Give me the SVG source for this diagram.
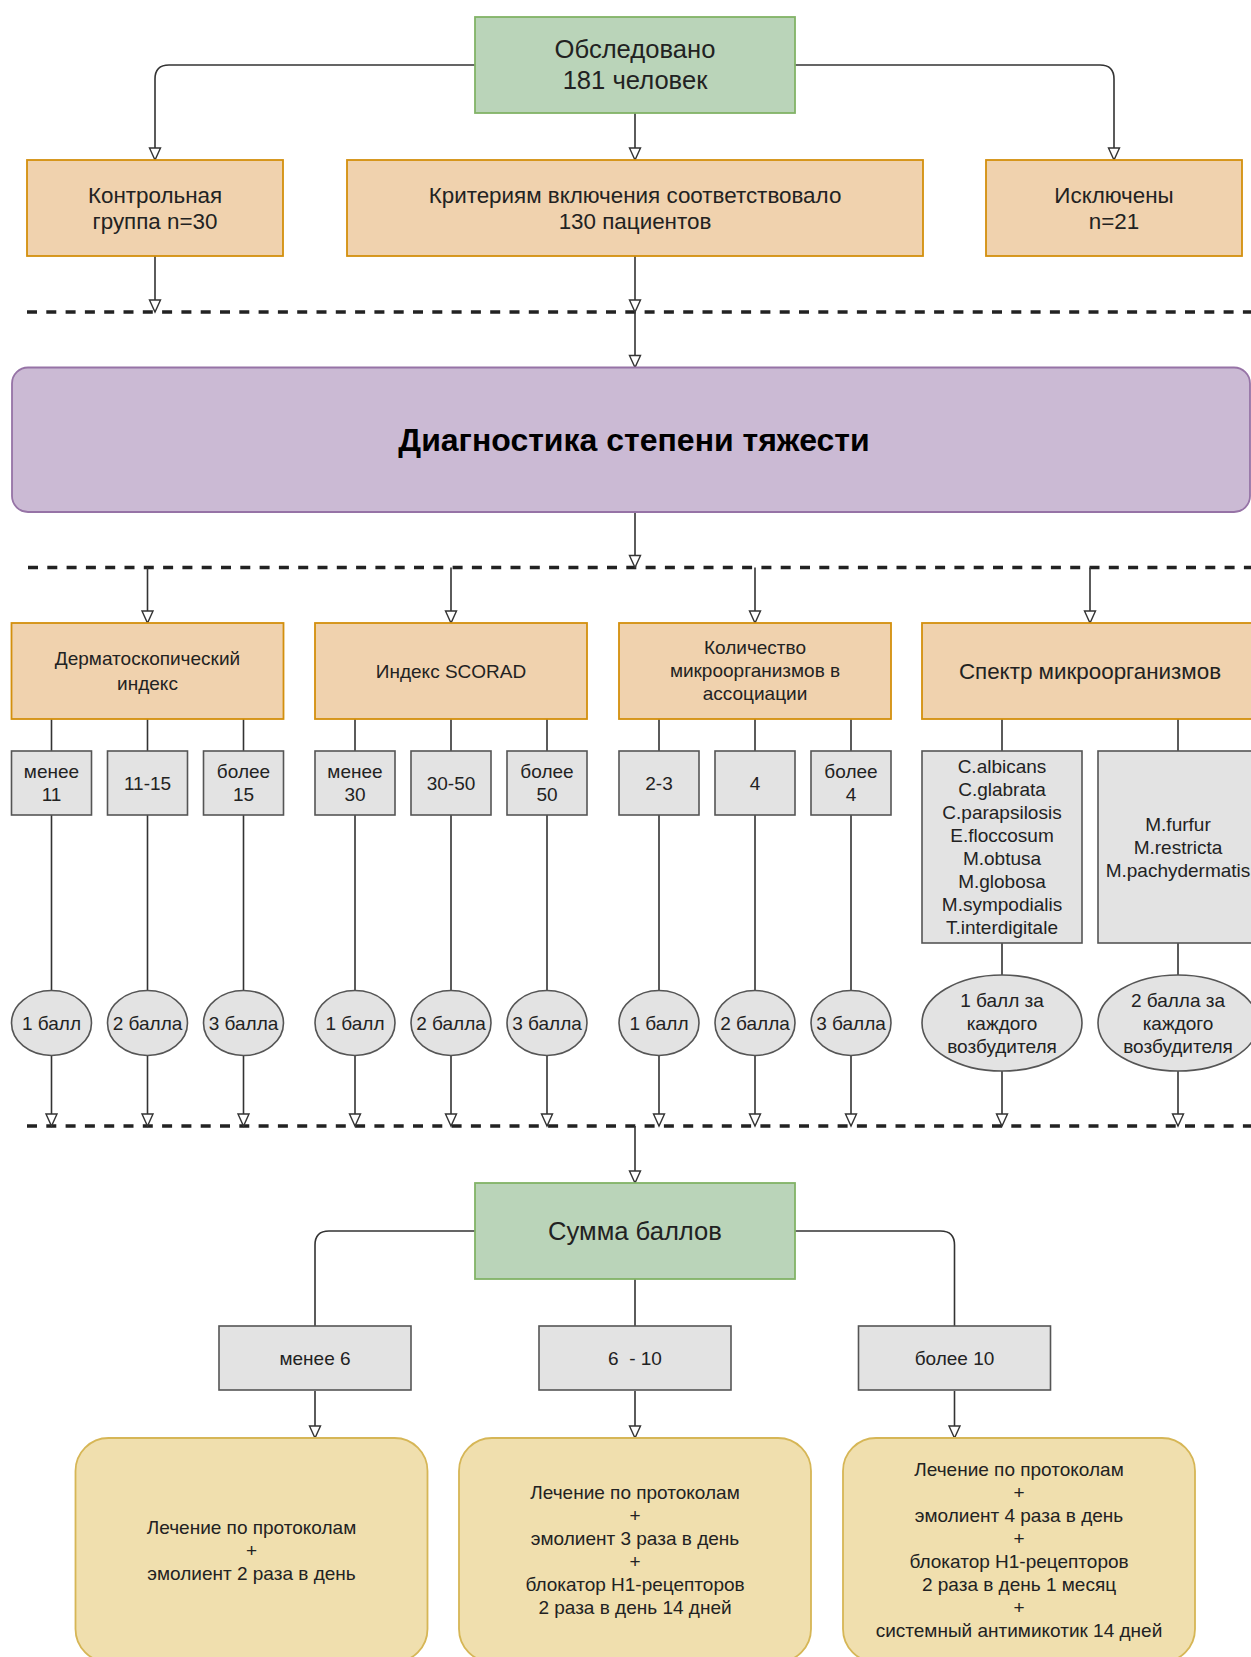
<svg xmlns="http://www.w3.org/2000/svg" width="1251" height="1657" viewBox="0 0 1251 1657">
<defs>
<style>
text{font-family:"Liberation Sans",Arial,sans-serif;fill:#222;text-anchor:middle;dominant-baseline:central}
.t25{font-size:25.6px}.t22{font-size:22.4px}.t19{font-size:19px}
.tb{font-size:32px;font-weight:bold;fill:#000}
.green{fill:#bad4b9;stroke:#82b366;stroke-width:1.8}
.orange{fill:#f0d2ae;stroke:#d38f0d;stroke-width:1.8}
.purple{fill:#cbbad4;stroke:#9673a6;stroke-width:1.8}
.gray{fill:#e3e3e3;stroke:#555;stroke-width:1.6}
.yellow{fill:#f0dfae;stroke:#d6b656;stroke-width:1.8}
.ln{fill:none;stroke:#333;stroke-width:1.6}
.ar{fill:none;stroke:#333;stroke-width:1.6;marker-end:url(#arr)}
.dash{fill:none;stroke:#222;stroke-width:3.5;stroke-dasharray:10 9.3}
</style>
<marker id="arr" markerUnits="userSpaceOnUse" markerWidth="16" markerHeight="16" viewBox="-2 -2 16 16" refX="12" refY="6" orient="auto">
<path d="M0,0.5 L12,6 L0,11.5 Z" fill="#fff" stroke="#333" stroke-width="1.4"/>
</marker>
</defs>
<rect width="1251" height="1657" fill="#fff"/>

<g id="dividers">
<line class="dash" x1="27" y1="312" x2="1251" y2="312"/>
<line class="dash" x1="28" y1="567.5" x2="1251" y2="567.5"/>
<line class="dash" x1="27" y1="1126" x2="1251" y2="1126"/>
</g>

<g id="connectors">
<path class="ar" d="M475,65 H169 Q155,65 155,79 V160"/>
<path class="ar" d="M795,65 H1100 Q1114,65 1114,79 V160"/>
<path class="ar" d="M635,113 V160"/>
<path class="ar" d="M155,256 V312"/>
<path class="ar" d="M635,256 V312"/>
<path class="ar" d="M635,312 V367.5"/>
<path class="ar" d="M635,512 V567.5"/>
<path class="ar" d="M147.5,567.5 V623"/>
<path class="ar" d="M451,567.5 V623"/>
<path class="ar" d="M755,567.5 V623"/>
<path class="ar" d="M1090,567.5 V623"/>
<path class="ln" d="M51.5,719 V751 M147.5,719 V751 M243.5,719 V751 M355,719 V751 M451,719 V751 M547,719 V751 M659,719 V751 M755,719 V751 M851,719 V751 M1002,719 V751 M1178,719 V751"/>
<path class="ln" d="M51.5,815 V990.5 M147.5,815 V990.5 M243.5,815 V990.5 M355,815 V990.5 M451,815 V990.5 M547,815 V990.5 M659,815 V990.5 M755,815 V990.5 M851,815 V990.5 M1002,943 V975 M1178,943 V975"/>
<path class="ar" d="M51.5,1055.5 V1126"/>
<path class="ar" d="M147.5,1055.5 V1126"/>
<path class="ar" d="M243.5,1055.5 V1126"/>
<path class="ar" d="M355,1055.5 V1126"/>
<path class="ar" d="M451,1055.5 V1126"/>
<path class="ar" d="M547,1055.5 V1126"/>
<path class="ar" d="M659,1055.5 V1126"/>
<path class="ar" d="M755,1055.5 V1126"/>
<path class="ar" d="M851,1055.5 V1126"/>
<path class="ar" d="M1002,1071 V1126"/>
<path class="ar" d="M1178,1071 V1126"/>
<path class="ar" d="M635,1126 V1183"/>
<path class="ln" d="M475,1231 H329 Q315,1231 315,1245 V1326"/>
<path class="ln" d="M795,1231 H940.5 Q954.5,1231 954.5,1245 V1326"/>
<path class="ln" d="M635,1279 V1326"/>
<path class="ar" d="M315,1391 V1438"/>
<path class="ar" d="M635,1391 V1438"/>
<path class="ar" d="M954.5,1391 V1438"/>
</g>

<g id="obsledovano"><rect class="green" x="475" y="17" width="320" height="96"/>
<text class="t25" x="635" y="49">Обследовано</text><text class="t25" x="635" y="80">181 человек</text></g>

<g id="kontrol"><rect class="orange" x="27" y="160" width="256" height="96"/>
<text class="t22" x="155" y="195">Контрольная</text><text class="t22" x="155" y="221">группа n=30</text></g>

<g id="kriterii"><rect class="orange" x="347" y="160" width="576" height="96"/>
<text class="t22" x="635" y="195">Критериям включения соответствовало</text><text class="t22" x="635" y="221">130 пациентов</text></g>

<g id="isklyucheny"><rect class="orange" x="986" y="160" width="256" height="96"/>
<text class="t22" x="1114" y="195">Исключены</text><text class="t22" x="1114" y="221">n=21</text></g>

<g id="diagnostika"><rect class="purple" x="12" y="367.5" width="1238" height="144.5" rx="16"/>
<text class="tb" x="634" y="440">Диагностика степени тяжести</text></g>

<g id="dermato"><rect class="orange" x="11.5" y="623" width="272" height="96"/>
<text class="t19" x="147.5" y="658.5">Дерматоскопический</text><text class="t19" x="147.5" y="683.5">индекс</text></g>
<g id="scorad"><rect class="orange" x="315" y="623" width="272" height="96"/>
<text class="t19" x="451" y="671">Индекс SCORAD</text></g>
<g id="kolichestvo"><rect class="orange" x="619" y="623" width="272" height="96"/>
<text class="t19" x="755" y="647.5">Количество</text><text class="t19" x="755" y="670.5">микроорганизмов в</text><text class="t19" x="755" y="693.5">ассоциации</text></g>
<g id="spektr"><rect class="orange" x="922" y="623" width="336" height="96"/>
<text class="t22" x="1090" y="671">Спектр микроорганизмов</text></g>

<g id="d1"><rect class="gray" x="11.5" y="751" width="80" height="64"/><text class="t19" x="51.5" y="771.5">менее</text><text class="t19" x="51.5" y="794.5">11</text></g>
<g id="d2"><rect class="gray" x="107.5" y="751" width="80" height="64"/><text class="t19" x="147.5" y="783">11-15</text></g>
<g id="d3"><rect class="gray" x="203.5" y="751" width="80" height="64"/><text class="t19" x="243.5" y="771.5">более</text><text class="t19" x="243.5" y="794.5">15</text></g>
<g id="s1"><rect class="gray" x="315" y="751" width="80" height="64"/><text class="t19" x="355" y="771.5">менее</text><text class="t19" x="355" y="794.5">30</text></g>
<g id="s2"><rect class="gray" x="411" y="751" width="80" height="64"/><text class="t19" x="451" y="783">30-50</text></g>
<g id="s3"><rect class="gray" x="507" y="751" width="80" height="64"/><text class="t19" x="547" y="771.5">более</text><text class="t19" x="547" y="794.5">50</text></g>
<g id="k1"><rect class="gray" x="619" y="751" width="80" height="64"/><text class="t19" x="659" y="783">2-3</text></g>
<g id="k2"><rect class="gray" x="715" y="751" width="80" height="64"/><text class="t19" x="755" y="783">4</text></g>
<g id="k3"><rect class="gray" x="811" y="751" width="80" height="64"/><text class="t19" x="851" y="771.5">более</text><text class="t19" x="851" y="794.5">4</text></g>
<g id="sp1"><rect class="gray" x="922" y="751" width="160" height="192"/>
<text class="t19" x="1002" y="766">C.albicans</text><text class="t19" x="1002" y="789">C.glabrata</text><text class="t19" x="1002" y="812">C.parapsilosis</text><text class="t19" x="1002" y="835">E.floccosum</text><text class="t19" x="1002" y="858">M.obtusa</text><text class="t19" x="1002" y="881">M.globosa</text><text class="t19" x="1002" y="904">M.sympodialis</text><text class="t19" x="1002" y="927">T.interdigitale</text></g>
<g id="sp2"><rect class="gray" x="1098" y="751" width="160" height="192"/>
<text class="t19" x="1178" y="824">M.furfur</text><text class="t19" x="1178" y="847">M.restricta</text><text class="t19" x="1178" y="870">M.pachydermatis</text></g>

<g id="e1"><ellipse class="gray" cx="51.5" cy="1023" rx="40" ry="32.5"/><text class="t19" x="51.5" y="1023">1 балл</text></g>
<g id="e2"><ellipse class="gray" cx="147.5" cy="1023" rx="40" ry="32.5"/><text class="t19" x="147.5" y="1023">2 балла</text></g>
<g id="e3"><ellipse class="gray" cx="243.5" cy="1023" rx="40" ry="32.5"/><text class="t19" x="243.5" y="1023">3 балла</text></g>
<g id="e4"><ellipse class="gray" cx="355" cy="1023" rx="40" ry="32.5"/><text class="t19" x="355" y="1023">1 балл</text></g>
<g id="e5"><ellipse class="gray" cx="451" cy="1023" rx="40" ry="32.5"/><text class="t19" x="451" y="1023">2 балла</text></g>
<g id="e6"><ellipse class="gray" cx="547" cy="1023" rx="40" ry="32.5"/><text class="t19" x="547" y="1023">3 балла</text></g>
<g id="e7"><ellipse class="gray" cx="659" cy="1023" rx="40" ry="32.5"/><text class="t19" x="659" y="1023">1 балл</text></g>
<g id="e8"><ellipse class="gray" cx="755" cy="1023" rx="40" ry="32.5"/><text class="t19" x="755" y="1023">2 балла</text></g>
<g id="e9"><ellipse class="gray" cx="851" cy="1023" rx="40" ry="32.5"/><text class="t19" x="851" y="1023">3 балла</text></g>
<g id="e10"><ellipse class="gray" cx="1002" cy="1023" rx="80" ry="48"/><text class="t19" x="1002" y="1000">1 балл за</text><text class="t19" x="1002" y="1023">каждого</text><text class="t19" x="1002" y="1046">возбудителя</text></g>
<g id="e11"><ellipse class="gray" cx="1178" cy="1023" rx="80" ry="48"/><text class="t19" x="1178" y="1000">2 балла за</text><text class="t19" x="1178" y="1023">каждого</text><text class="t19" x="1178" y="1046">возбудителя</text></g>

<g id="summa"><rect class="green" x="475" y="1183" width="320" height="96"/>
<text class="t25" x="635" y="1231">Сумма баллов</text></g>

<g id="r1"><rect class="gray" x="219" y="1326" width="192" height="64"/><text class="t19" x="315" y="1358">менее 6</text></g>
<g id="r2"><rect class="gray" x="539" y="1326" width="192" height="64"/><text class="t19" x="635" y="1358" xml:space="preserve">6  - 10</text></g>
<g id="r3"><rect class="gray" x="858.5" y="1326" width="192" height="64"/><text class="t19" x="954.5" y="1358">более 10</text></g>

<g id="t1"><rect class="yellow" x="75.5" y="1438" width="352" height="224" rx="33"/>
<text class="t19" x="251.5" y="1527">Лечение по протоколам</text><text class="t19" x="251.5" y="1550">+</text><text class="t19" x="251.5" y="1573">эмолиент 2 раза в день</text></g>
<g id="t2"><rect class="yellow" x="459" y="1438" width="352" height="224" rx="33"/>
<text class="t19" x="635" y="1492.5">Лечение по протоколам</text><text class="t19" x="635" y="1515.5">+</text><text class="t19" x="635" y="1538.5">эмолиент 3 раза в день</text><text class="t19" x="635" y="1561.5">+</text><text class="t19" x="635" y="1584.5">блокатор Н1-рецепторов</text><text class="t19" x="635" y="1607.5">2 раза в день 14 дней</text></g>
<g id="t3"><rect class="yellow" x="843" y="1438" width="352" height="224" rx="33"/>
<text class="t19" x="1019" y="1469.5">Лечение по протоколам</text><text class="t19" x="1019" y="1492.5">+</text><text class="t19" x="1019" y="1515.5">эмолиент 4 раза в день</text><text class="t19" x="1019" y="1538.5">+</text><text class="t19" x="1019" y="1561.5">блокатор Н1-рецепторов</text><text class="t19" x="1019" y="1584.5">2 раза в день 1 месяц</text><text class="t19" x="1019" y="1607.5">+</text><text class="t19" x="1019" y="1630.5">системный антимикотик 14 дней</text></g>
</svg>
